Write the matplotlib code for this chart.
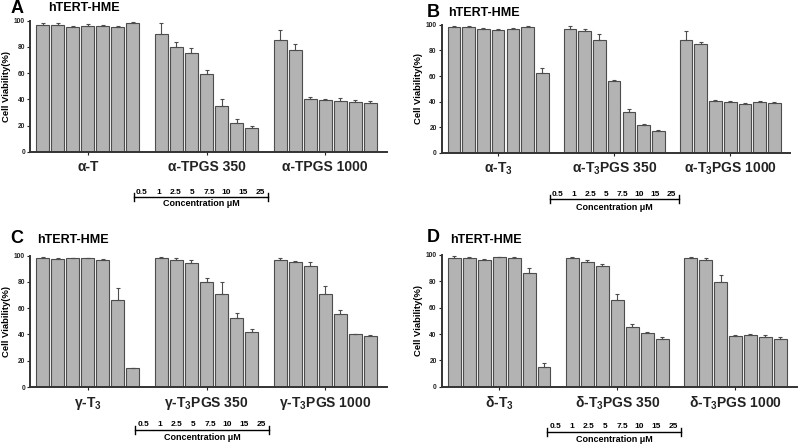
import matplotlib.pyplot as plt
from matplotlib.lines import Line2D

plt.rcParams['font.family'] = ['Liberation Sans', 'DejaVu Sans']
plt.rcParams['font.weight'] = 'bold'
plt.rcParams['mathtext.fontset'] = 'custom'
plt.rcParams['mathtext.rm'] = 'Liberation Sans:bold'
plt.rcParams['mathtext.bf'] = 'Liberation Sans:bold'
plt.rcParams['mathtext.default'] = 'rm'

# concentration labels (uM)
conc = ['0.5', '1', '2.5', '5', '7.5', '10', '15', '25']

# panel A
a_groups = ['α-T', 'α-TPGS 350', 'α-TPGS 1000']
a_vals = [[96.5, 97, 95.5, 96, 96, 95.5, 98.5],
          [90, 80, 75.5, 59, 35, 22, 18],
          [85.5, 78, 40, 39.2, 39, 38, 37]]
a_err = [[2, 1, 0.5, 1.5, 0.8, 0.5, 0.5],
         [8, 3.5, 4, 3, 5, 3, 1.5],
         [7.5, 4.3, 2, 1, 2, 1.8, 2]]

# panel B
b_groups = ['α-T$_3$', 'α-T$_3$PGS 350', 'α-T$_3$PGS 1000']
b_vals = [[98, 98, 97, 96, 97, 98, 62.7],
          [97, 95, 88, 56, 31.6, 21.5, 17.2],
          [88, 85, 40.7, 40, 38, 40, 39]]
b_err = [[0.8, 0.8, 0.6, 0.5, 0.7, 0.8, 3.5],
         [2, 2, 5, 0.5, 2.4, 1.3, 0.3],
         [7, 2, 0.8, 0.5, 0.5, 0.5, 0.6]]

# panel C
c_groups = ['γ-T$_3$', 'γ-T$_3$PGS 350', 'γ-T$_3$PGS 1000']
c_vals = [[98, 97.5, 98, 98, 97, 66.6, 14.2],
          [98, 97, 94.5, 79.7, 70.8, 52.3, 42.1],
          [96.5, 95, 92.5, 71, 55.6, 40, 39]]
c_err = [[0.8, 0.5, 0.6, 0.6, 0.7, 8.5, 0.3],
         [1, 1.5, 2, 3, 9, 4.3, 2],
         [1.5, 1, 2.5, 5.7, 3, 0.6, 0.3]]

# panel D
d_groups = ['δ-T$_3$', 'δ-T$_3$PGS 350', 'δ-T$_3$PGS 1000']
d_vals = [[98, 97.5, 96, 98.5, 98, 86.3, 15],
          [97.5, 95, 91.5, 65.8, 45, 40.5, 36],
          [98, 96, 79.3, 38.5, 39, 38, 36]]
d_err = [[1, 1.2, 0.8, 0.3, 0.8, 4, 2.8],
         [1.2, 1, 1.5, 4.5, 2.5, 1, 2],
         [0.8, 1.5, 5.5, 1, 0.8, 1, 2]]


def draw_panel(fig, rect, letter, groups, vals, errs, letter_xy, title_xy):
    ax = fig.add_axes(rect)
    for g in range(len(groups)):
        x = [g * 7.9 + i for i in range(len(vals[g]))]
        ax.bar(x, vals[g], width=0.86, color='#b3b3b3', edgecolor='#4d4d4d',
               linewidth=0.8, zorder=2)
        ax.errorbar(x, vals[g], yerr=[[0] * len(errs[g]), errs[g]], fmt='none',
                    ecolor='#4d4d4d', elinewidth=0.8, capsize=1.5, capthick=0.8,
                    clip_on=False, zorder=3)
    ax.set_xlim(-0.85, 22.9)
    ax.set_ylim(0, 100)
    ax.set_yticks([0, 20, 40, 60, 80, 100])
    ax.set_xticks([g * 7.9 + 3 for g in range(len(groups))])
    ax.set_xticklabels(groups, fontsize=10, fontweight='bold')
    ax.tick_params(axis='y', labelsize=4.8, length=2, width=0.8, pad=1.5, colors='#222222')
    ax.tick_params(axis='x', length=2, width=0.8, pad=4, colors='#222222')
    ax.spines['top'].set_visible(False)
    ax.spines['right'].set_visible(False)
    for s in ['left', 'bottom']:
        ax.spines[s].set_linewidth(1.4)
        ax.spines[s].set_color('#333333')
    ax.set_ylabel('Cell Viability(%)', fontsize=6.8, fontweight='bold', labelpad=2)
    fig.text(letter_xy[0], letter_xy[1], letter, fontsize=13, fontweight='bold',
             ha='left', va='center')
    fig.text(title_xy[0], title_xy[1], 'hTERT-HME', fontsize=9, fontweight='bold',
             ha='left', va='center')
    return ax


def draw_bracket(fig, x0, x1, y_line, y_text):
    W, H = 800.0, 445.0
    fig.add_artist(Line2D([x0 / W, x1 / W], [1 - y_line / H, 1 - y_line / H],
                          color='black', linewidth=1.0))
    for xe in [x0, x1]:
        fig.add_artist(Line2D([xe / W, xe / W], [1 - (y_line - 4) / H, 1 - (y_line + 4) / H],
                              color='black', linewidth=1.0))
    step = (x1 - x0 - 16) / (len(conc) - 1)
    for i, c in enumerate(conc):
        fig.text((x0 + 8 + i * step) / W, 1 - (y_line - 5) / H, c, fontsize=6,
                 fontweight='bold', ha='center', va='center')
    fig.text((x0 + x1) / 2 / W, 1 - y_text / H, 'Concentration μM', fontsize=6.5,
             fontweight='bold', ha='center', va='center')


fig = plt.figure(figsize=(8, 4.45), dpi=100)

draw_panel(fig, [0.0375, 0.659, 0.446, 0.2945], 'A', a_groups, a_vals, a_err,
           (0.013, 0.982), (0.06, 0.982))
draw_panel(fig, [0.552, 0.657, 0.436, 0.287], 'B', b_groups, b_vals, b_err,
           (0.533, 0.973), (0.56, 0.971))
draw_panel(fig, [0.0375, 0.1303, 0.446, 0.2951], 'C', c_groups, c_vals, c_err,
           (0.013, 0.465), (0.047, 0.461))
draw_panel(fig, [0.552, 0.131, 0.444, 0.296], 'D', d_groups, d_vals, d_err,
           (0.533, 0.466), (0.563, 0.461))

draw_bracket(fig, 134, 268, 197, 203)
draw_bracket(fig, 550, 679, 199, 207)
draw_bracket(fig, 135, 269, 430, 438)
draw_bracket(fig, 547, 681, 432, 439)

plt.savefig('out.png', dpi=100)
